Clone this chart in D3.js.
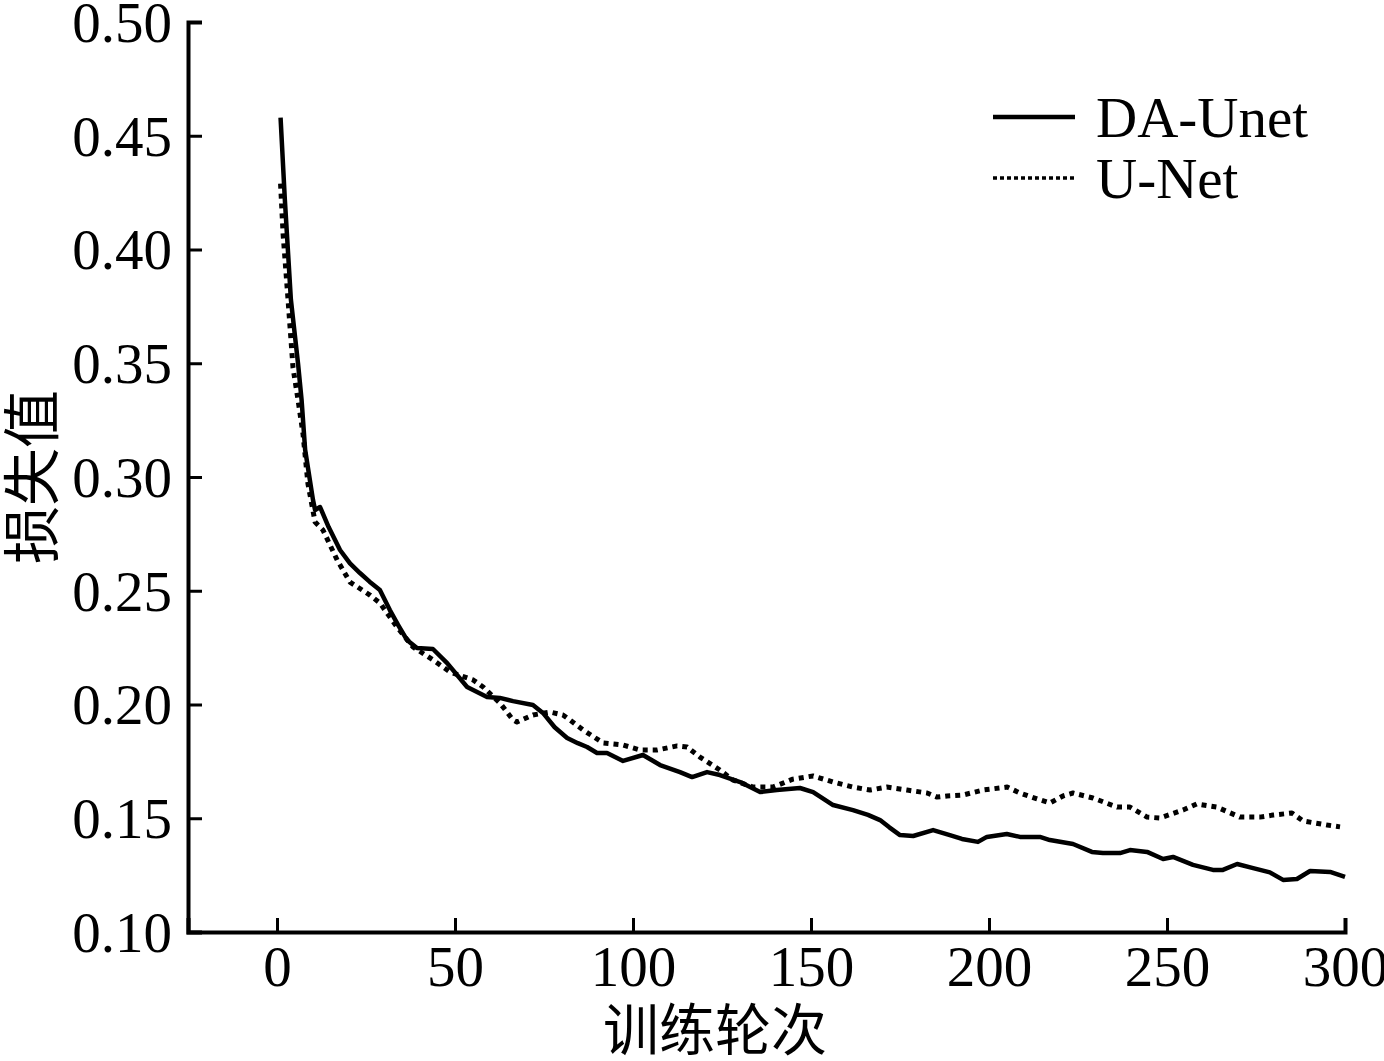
<!DOCTYPE html>
<html><head><meta charset="utf-8">
<script src="https://cdn.jsdelivr.net/npm/d3@7"></script>
<style>html,body{margin:0;padding:0;background:#fff;}svg{display:block;}</style>
</head><body>
<svg id="chart" width="1384" height="1061"></svg>
<script>
const xTicks = [0, 50, 100, 150, 200, 250, 300];
const yTicks = [0.10, 0.15, 0.20, 0.25, 0.30, 0.35, 0.40, 0.45, 0.50];
const seriesNames = ["DA-Unet", "U-Net"];
const xLabel = "训练轮次";
const yLabel = "损失值";

const daEpochs = [1, 2.2, 3.9, 5.9, 6.9, 7.9, 10.1, 10.7, 12.1, 14.5, 17.7, 20.5, 23.3, 26, 28.9, 31.7, 34, 36.5, 39.3, 43.8, 47.8, 53.4, 59, 62.6, 66.3, 71.9, 74.7, 78, 81.5, 84.5, 87.1, 89.9, 92.7, 97.2, 102.8, 107.6, 113.2, 116.6, 120.8, 124.4, 130.1, 135.7, 140.4, 146.9, 150.6, 156.2, 161.8, 166, 169.4, 172, 175, 178.7, 184.3, 189, 192.4, 196.9, 199.4, 205, 208.7, 214.3, 217.1, 223.6, 228.9, 232, 236.8, 239.6, 244.4, 248.9, 251.7, 257.3, 262.9, 265.7, 269.7, 274.2, 278.9, 282.6, 286.5, 290.2, 295.8, 300];
const daValues = [0.458, 0.422, 0.378, 0.350, 0.334, 0.312, 0.290, 0.2855, 0.2868, 0.278, 0.2679, 0.262, 0.2578, 0.254, 0.2503, 0.2415, 0.235, 0.2284, 0.2248, 0.2244, 0.2182, 0.2077, 0.2033, 0.2029, 0.2015, 0.1998, 0.1963, 0.190, 0.1853, 0.1830, 0.1813, 0.1787, 0.1787, 0.1752, 0.1778, 0.1734, 0.1703, 0.1681, 0.1703, 0.1690, 0.1659, 0.1615, 0.1624, 0.1633, 0.1615, 0.1558, 0.1536, 0.1515, 0.1492, 0.1460, 0.1426, 0.1422, 0.1448, 0.1426, 0.1409, 0.1396, 0.1418, 0.1431, 0.1418, 0.1418, 0.1404, 0.1387, 0.1352, 0.1347, 0.1347, 0.1360, 0.1352, 0.1321, 0.1330, 0.1295, 0.1273, 0.1273, 0.1299, 0.1281, 0.1262, 0.1229, 0.1233, 0.1268, 0.1264, 0.1242];

const unEpochs = [1, 1.7, 3.1, 4.5, 5.9, 7.3, 8.7, 10.7, 12.9, 16.9, 20.5, 26.1, 28.9, 33.7, 38.2, 43.8, 48.6, 55.1, 57.9, 62.6, 66.3, 67.4, 71.9, 76.7, 80.3, 82.3, 86, 91.6, 97.2, 102, 106.7, 112.4, 115.2, 118.8, 124.4, 128.1, 133.7, 139.3, 144.9, 150.6, 156.2, 161.8, 166.6, 171.3, 177, 182.6, 185.4, 188.2, 192.7, 198.3, 205.1, 208.7, 213.5, 217.1, 220.8, 223.6, 229.2, 236, 239.6, 244.4, 248, 254.5, 258.4, 264, 270.5, 276.1, 279.8, 285.1, 288.2, 295, 298.6];
const unValues = [0.429, 0.407, 0.378, 0.348, 0.334, 0.319, 0.297, 0.2802, 0.2767, 0.2635, 0.2538, 0.2481, 0.2446, 0.2341, 0.2253, 0.2196, 0.2143, 0.2108, 0.2077, 0.2007, 0.1932, 0.1923, 0.1954, 0.1967, 0.1954, 0.1932, 0.1888, 0.1831, 0.1822, 0.1800, 0.1800, 0.1818, 0.1813, 0.1769, 0.1712, 0.1668, 0.1637, 0.1637, 0.1672, 0.1686, 0.1659, 0.1637, 0.1624, 0.1637, 0.1624, 0.1611, 0.1593, 0.1598, 0.1602, 0.1624, 0.1637, 0.1611, 0.1585, 0.1567, 0.1598, 0.1611, 0.1589, 0.1549, 0.1549, 0.1505, 0.1501, 0.1536, 0.1563, 0.1549, 0.1505, 0.1505, 0.1514, 0.1523, 0.1488, 0.1470, 0.1462];

const svg = d3.select("#chart");
const mLeft = 188, mRight = 1345, mTop = 22, mBottom = 932;
const x = d3.scaleLinear().domain([-25, 300]).range([mLeft, mRight]);
const y = d3.scaleLinear().domain([0.10, 0.50]).range([mBottom, mTop]);
const serif = "'Liberation Serif','Times New Roman',serif";
const cjk = "'Noto Sans CJK SC',sans-serif";

// axes
const xAxis = d3.axisBottom(x).tickValues(xTicks).tickSize(-14).tickPadding(14).tickFormat(d3.format("d"));
const gx = svg.append("g").attr("transform", `translate(0,${mBottom})`).call(xAxis);
const yAxis = d3.axisLeft(y).tickValues(yTicks).tickSize(-14).tickPadding(16).tickFormat(d3.format(".2f"));
const gy = svg.append("g").attr("transform", `translate(${mLeft},0)`).call(yAxis);
[gx, gy].forEach(g => {
  g.select(".domain").attr("stroke", "#000").attr("stroke-width", 4);
  g.selectAll(".tick line").attr("stroke", "#000").attr("stroke-width", 3);
  g.selectAll(".tick text").attr("fill", "#000").style("font-family", serif).style("font-size", "57px");
});
gy.selectAll(".tick text").attr("dy", "0.34em");
gx.selectAll(".tick text").attr("dy", "0.71em");

// lines
const line = d3.line().x(d => x(d[0])).y(d => y(d[1]));
const daData = daEpochs.map((e, i) => [e, daValues[i]]);
const unData = unEpochs.map((e, i) => [e, unValues[i]]);
svg.append("path").datum(unData).attr("d", line).attr("fill", "none")
  .attr("stroke", "#000").attr("stroke-width", 5).attr("stroke-dasharray", "5,5")
  .attr("stroke-linecap", "butt").attr("stroke-linejoin", "round");
svg.append("path").datum(daData).attr("d", line).attr("fill", "none")
  .attr("stroke", "#000").attr("stroke-width", 4.5).attr("stroke-linejoin", "round");

// legend
const legend = svg.append("g");
legend.append("line").attr("x1", 993).attr("x2", 1075).attr("y1", 117).attr("y2", 117)
  .attr("stroke", "#000").attr("stroke-width", 4.5);
legend.append("line").attr("x1", 993).attr("x2", 1075).attr("y1", 178).attr("y2", 178)
  .attr("stroke", "#000").attr("stroke-width", 3.5).attr("stroke-dasharray", "4,3");
legend.selectAll("text.lg").data(seriesNames).join("text").attr("class", "lg")
  .attr("x", 1096).attr("y", (d, i) => 117 + i * 61).attr("dy", "0.35em")
  .style("font-family", serif).style("font-size", "57px").attr("fill", "#000").text(d => d);

// axis titles
svg.append("text").attr("x", 715).attr("y", 1030).attr("dy", "0.35em").attr("text-anchor", "middle")
  .style("font-family", cjk).style("font-size", "56px").attr("fill", "#000").text(xLabel);
svg.append("text").attr("transform", "translate(33,477) rotate(-90)").attr("dy", "0.35em")
  .attr("text-anchor", "middle").style("font-family", cjk).style("font-size", "58px")
  .attr("fill", "#000").text(yLabel);
</script>
</body></html>
